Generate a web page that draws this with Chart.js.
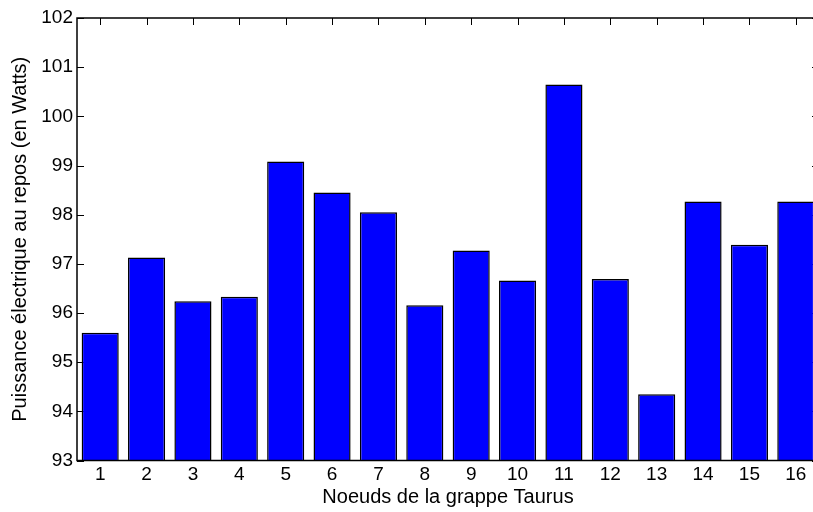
<!DOCTYPE html>
<html>
<head>
<meta charset="utf-8">
<script src="https://cdn.jsdelivr.net/npm/chart.js@4/dist/chart.umd.min.js"></script>
<style>
    html, body { margin: 0; padding: 0; background: #fff; overflow: hidden; }
    #wrap { width: 830px; height: 512px; position: relative; }
</style>
</head>
<body>
<div id="wrap"><canvas id="barChart"></canvas></div>
<script>
    // Données
    const noeuds = ['1', '2', '3', '4', '5', '6', '7', '8', '9', '10', '11', '12', '13', '14', '15', '16'];
    const puissance = [95.60, 97.13, 96.24, 96.33, 99.08, 98.45, 98.05, 96.16, 97.27, 96.66, 100.65, 96.69, 94.35, 98.27, 97.39, 98.27];
    const yMin = 93;
    const yMax = 102;

    const police = "'Liberation Sans', Arial, Helvetica, sans-serif";

    // petits traits vers l'intérieur + cadre, style matlab
    const cadreMatlab = {
        id: 'cadreMatlab',
        beforeDatasetsDraw(chart) {
            const { ctx, chartArea: a, scales: { x, y } } = chart;
            ctx.save();
            ctx.strokeStyle = '#000';
            ctx.lineWidth = 1;
            ctx.beginPath();
            y.ticks.forEach((t, i) => {
                const py = Math.round(y.getPixelForTick(i)) + 0.5;
                ctx.moveTo(a.left, py); ctx.lineTo(a.left + 7, py);
                ctx.moveTo(a.right, py); ctx.lineTo(a.right - 7, py);
            });
            x.ticks.forEach((t, i) => {
                const px = Math.round(x.getPixelForTick(i)) + 0.5;
                ctx.moveTo(px, a.top); ctx.lineTo(px, a.top + 7);
                ctx.moveTo(px, a.bottom); ctx.lineTo(px, a.bottom - 7);
            });
            ctx.stroke();
            ctx.restore();
        },
        afterDatasetsDraw(chart) {
            const { ctx, chartArea: a } = chart;
            ctx.save();
            ctx.strokeStyle = '#000';
            ctx.lineWidth = 1.5;
            ctx.strokeRect(a.left, a.top, a.right - a.left, a.bottom - a.top);
            ctx.restore();
        }
    };

    new Chart(document.getElementById('barChart'), {
        type: 'bar',
        data: {
            labels: noeuds,
            datasets: [{
                data: puissance,
                backgroundColor: '#0000ff',
                borderColor: '#000',
                borderWidth: 1.5,
                borderSkipped: false,
                categoryPercentage: 0.8,
                barPercentage: 1
            }]
        },
        options: {
            responsive: true,
            maintainAspectRatio: false,
            animation: false,
            layout: { padding: { top: 18, right: 11, left: 0, bottom: 0 } },
            plugins: { legend: { display: false }, tooltip: { enabled: false } },
            scales: {
                x: {
                    offset: true,
                    grid: { display: false, drawTicks: false },
                    border: { display: false },
                    ticks: { color: '#000', padding: 3, font: { family: police, size: 19 } },
                    title: {
                        display: true,
                        text: 'Noeuds de la grappe Taurus',
                        color: '#000',
                        padding: { top: 0, bottom: 3 },
                        font: { family: police, size: 20 }
                    },
                    afterFit(scale) { scale.height = 51.5; }
                },
                y: {
                    min: yMin,
                    max: yMax,
                    grid: { display: false, drawTicks: false },
                    border: { display: false },
                    ticks: { stepSize: 1, color: '#000', padding: 4, font: { family: police, size: 19 } },
                    title: {
                        display: true,
                        text: 'Puissance électrique au repos (en Watts)',
                        color: '#000',
                        padding: { top: 8, bottom: 0 },
                        font: { family: police, size: 20 }
                    },
                    afterFit(scale) { scale.width = 77; }
                }
            }
        },
        plugins: [cadreMatlab]
    });
</script>
</body>
</html>
